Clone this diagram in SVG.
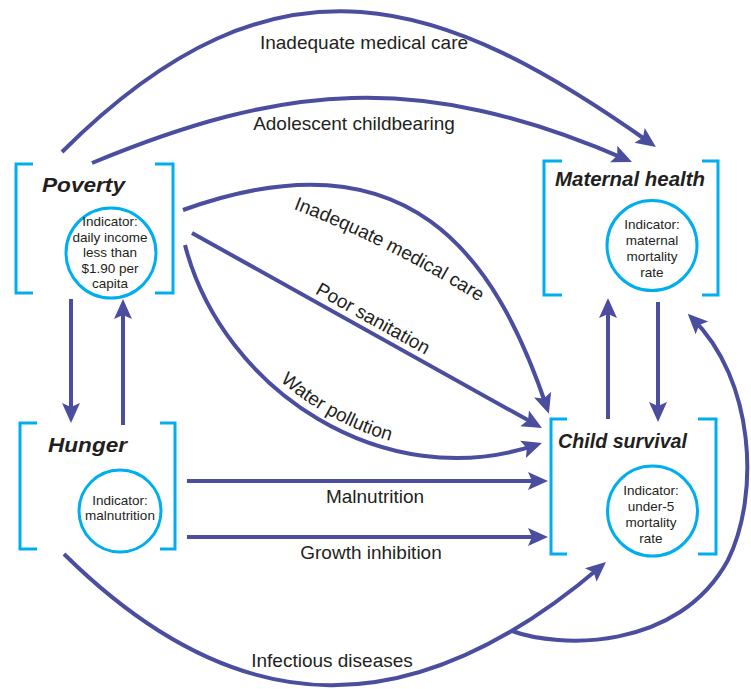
<svg xmlns="http://www.w3.org/2000/svg" width="751" height="689" viewBox="0 0 751 689">
<style>
.br{fill:none;stroke:#00aeef;stroke-width:3}
.ci{fill:#fff;stroke:#00aeef;stroke-width:3}
.ti{font-family:"Liberation Sans",Arial,sans-serif;font-weight:bold;font-style:italic;font-size:21px;fill:#231f20;text-anchor:middle}
.in{font-family:"Liberation Sans",Arial,sans-serif;font-size:13.5px;fill:#231f20;text-anchor:middle}
.ed{fill:none;stroke:#4b4d9f;stroke-width:4;marker-end:url(#ah)}
.lb{font-family:"Liberation Sans",Arial,sans-serif;font-size:19px;fill:#231f20;text-anchor:middle}
</style>
<defs>
<marker id="ah" viewBox="0 0 20 20" refX="14" refY="10" markerWidth="20" markerHeight="20" markerUnits="userSpaceOnUse" orient="auto">
<path d="M0,1 L20,10 L0,19 L4,10 Z" fill="#4b4d9f"/>
</marker>
<path id="tp-med" d="M286,206 Q390,245 486,306"/>
<path id="tp-water" d="M190,238 C227.5,383.5 389.3,489.1 541.3,437.9"/>
</defs>
<rect width="751" height="689" fill="#fff"/>
<g id="connectors">
<path class="ed" d="M62,152 C279,-65 446,-1.5 651,143.5"/>
<path class="ed" d="M92,163 C281,84.9 418,69 626.5,159.6"/>
<path class="ed" d="M183,210 C408.6,128.4 496,256 547,408"/>
<path class="ed" d="M192,233 L536.8,425.1"/>
<path class="ed" d="M185,245 C222.5,390.5 384.3,496.1 536.3,444.9"/>
<path class="ed" d="M187,481 L542,481"/>
<path class="ed" d="M187,537 L542,537"/>
<path class="ed" d="M71,299 L71,417"/>
<path class="ed" d="M123,425 L123,305"/>
<path class="ed" d="M608,419 L608,304"/>
<path class="ed" d="M658,302 L658,416"/>
<path class="ed" d="M64,554 C241.8,729.8 416.3,724.2 601.4,565.9"/>
<path class="ed" d="M512,631 C558,648 678,652 728,560 C760,495 755,380 692,318"/>
<text class="lb" x="364" y="49">Inadequate medical care</text>
<text class="lb" x="354" y="130">Adolescent childbearing</text>
<text class="lb"><textPath href="#tp-med" startOffset="50%">Inadequate medical care</textPath></text>
<text class="lb" transform="translate(370,324) rotate(29.1)">Poor sanitation</text>
<text class="lb"><textPath href="#tp-water" startOffset="52%">Water pollution</textPath></text>
<text class="lb" x="375" y="503">Malnutrition</text>
<text class="lb" x="371" y="559">Growth inhibition</text>
<text class="lb" x="332" y="667">Infectious diseases</text>
</g>
<g id="poverty">
<path class="br" d="M33,164 H16 V293 H33"/>
<path class="br" d="M155,164 H173 V293 H155"/>
<text class="ti" x="83.5" y="192" textLength="83" lengthAdjust="spacingAndGlyphs">Poverty</text>
<circle class="ci" cx="111" cy="253" r="45"/>
<text class="in" x="110" y="226">Indicator:</text>
<text class="in" x="110" y="242">daily income</text>
<text class="in" x="110" y="257">less than</text>
<text class="in" x="110" y="273">$1.90 per</text>
<text class="in" x="110" y="288">capita</text>
</g>
<g id="hunger">
<path class="br" d="M37,423 H20 V549 H37"/>
<path class="br" d="M160,423 H175 V549 H160"/>
<text class="ti" x="87.5" y="452" textLength="79" lengthAdjust="spacingAndGlyphs">Hunger</text>
<circle class="ci" cx="120" cy="511" r="41"/>
<text class="in" x="120" y="505">Indicator:</text>
<text class="in" x="120" y="520">malnutrition</text>
</g>
<g id="maternal-health">
<path class="br" d="M562,161 H544 V295 H562"/>
<path class="br" d="M702,161 H718 V295 H702"/>
<text class="ti" x="630" y="186" textLength="150" lengthAdjust="spacingAndGlyphs">Maternal health</text>
<circle class="ci" cx="652" cy="245.5" r="45"/>
<text class="in" x="652" y="229">Indicator:</text>
<text class="in" x="652" y="245">maternal</text>
<text class="in" x="652" y="261">mortality</text>
<text class="in" x="652" y="277">rate</text>
</g>
<g id="child-survival">
<path class="br" d="M567,419 H551 V554 H567"/>
<path class="br" d="M698,419 H716 V554 H698"/>
<text class="ti" x="622.5" y="448" textLength="129" lengthAdjust="spacingAndGlyphs">Child survival</text>
<circle class="ci" cx="652.5" cy="511" r="45"/>
<text class="in" x="651" y="495">Indicator:</text>
<text class="in" x="651" y="511">under-5</text>
<text class="in" x="651" y="527">mortality</text>
<text class="in" x="651" y="543">rate</text>
</g>
</svg>
